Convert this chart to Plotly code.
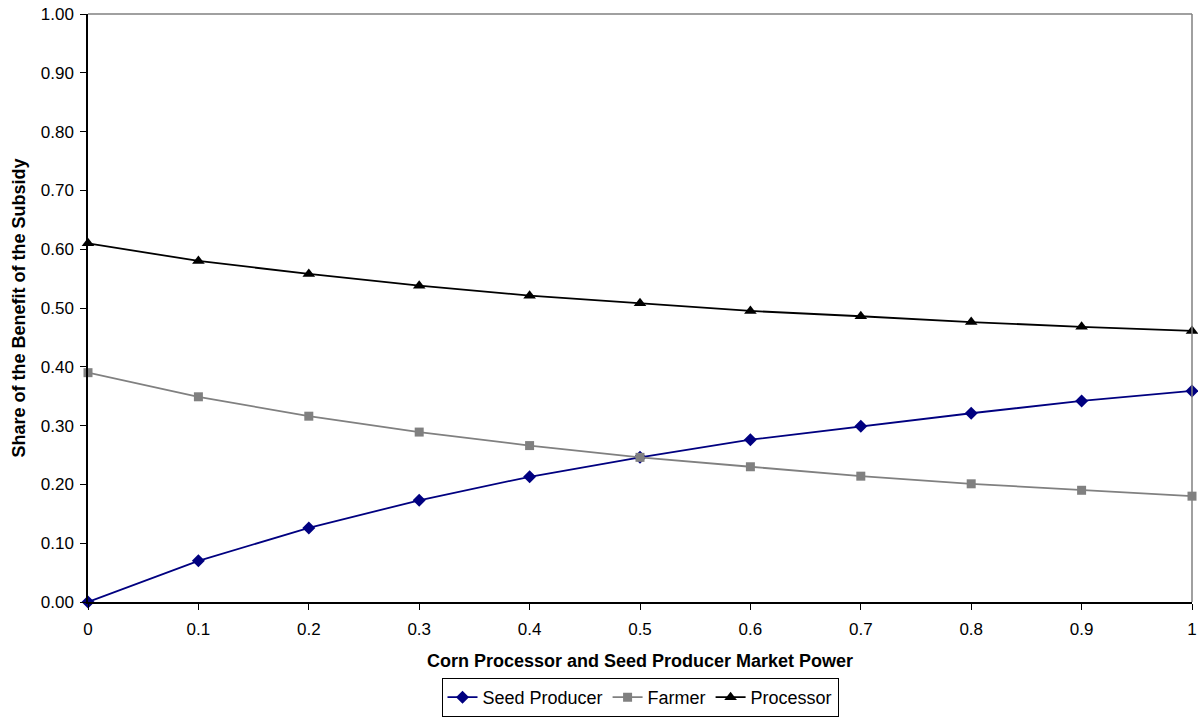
import plotly.graph_objects as go

market_power = [0, 0.1, 0.2, 0.3, 0.4, 0.5, 0.6, 0.7, 0.8, 0.9, 1.0]
seed_producer = [0.0, 0.070, 0.126, 0.173, 0.213, 0.246, 0.276, 0.299, 0.321, 0.342, 0.359]
farmer = [0.390, 0.349, 0.316, 0.289, 0.266, 0.246, 0.230, 0.214, 0.201, 0.190, 0.180]
processor = [0.610, 0.580, 0.558, 0.538, 0.521, 0.508, 0.495, 0.486, 0.476, 0.468, 0.461]
x_ticks = [0, 0.1, 0.2, 0.3, 0.4, 0.5, 0.6, 0.7, 0.8, 0.9, 1]
x_tick_labels = ["0", "0.1", "0.2", "0.3", "0.4", "0.5", "0.6", "0.7", "0.8", "0.9", "1"]

FONT = "Liberation Sans, Arial, sans-serif"

fig = go.Figure()
fig.add_trace(go.Scatter(x=market_power, y=seed_producer, name="Seed Producer", mode="lines+markers",
                         line=dict(color="#000080", width=1.8),
                         marker=dict(symbol="diamond", size=10, color="#000080"), cliponaxis=False))
fig.add_trace(go.Scatter(x=market_power, y=farmer, name="Farmer", mode="lines+markers",
                         line=dict(color="#808080", width=1.8),
                         marker=dict(symbol="square", size=9, color="#808080"), cliponaxis=False))
fig.add_trace(go.Scatter(x=market_power, y=processor, name="Processor", mode="lines+markers",
                         line=dict(color="#000000", width=1.8),
                         marker=dict(symbol="triangle-up", size=11, color="#000000"), cliponaxis=False))

# top and right border (gray)
fig.add_shape(type="line", xref="paper", yref="paper", x0=0, x1=1, y0=1, y1=1,
              line=dict(color="#808080", width=1.5))
fig.add_shape(type="line", xref="paper", yref="paper", x0=1, x1=1, y0=0, y1=1,
              line=dict(color="#808080", width=1.5))

fig.update_layout(
    width=1198, height=719,
    margin=dict(l=88, r=6, t=14, b=117, autoexpand=False),
    plot_bgcolor="white", paper_bgcolor="white",
    font=dict(family=FONT, size=17, color="black"),
    showlegend=True,
    legend=dict(orientation="h", x=0.5, xanchor="center", xref="paper",
                y=2 / 719, yanchor="bottom", yref="container",
                bordercolor="black", borderwidth=1, font=dict(size=18, family=FONT),
                tracegroupgap=0),
    xaxis=dict(range=[0, 1], tickvals=x_ticks, ticktext=x_tick_labels, automargin=False,
               showgrid=False, zeroline=False, showline=True, linecolor="black", linewidth=1.5,
               ticks="outside", ticklen=6, tickcolor="black", ticklabelstandoff=5,
               tickfont=dict(size=17, family=FONT),
               title=dict(text="<b>Corn Processor and Seed Producer Market Power</b>",
                          font=dict(size=18, family=FONT), standoff=16)),
    yaxis=dict(range=[0, 1], tickvals=[i / 10 for i in range(11)], tickformat=".2f", automargin=False,
               showgrid=False, zeroline=False, showline=True, linecolor="black", linewidth=1.5,
               ticks="outside", ticklen=6, tickcolor="black", ticklabelstandoff=3,
               tickfont=dict(size=17, family=FONT),
               title=dict(text="<b>Share of the Benefit of the Subsidy</b>",
                          font=dict(size=18, family=FONT), standoff=10)),
)

fig.write_html("out.html")
